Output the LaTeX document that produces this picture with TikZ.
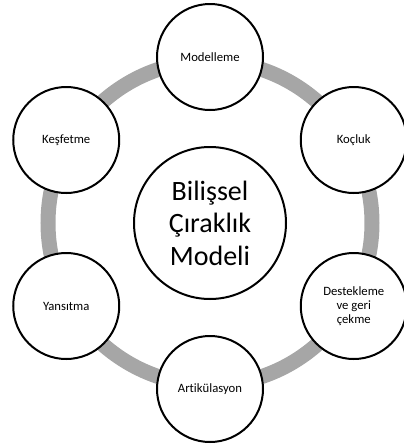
\documentclass[tikz,border=0pt]{standalone}
\usepackage{fontspec}
\setmainfont[Ligatures=NoCommon]{Carlito}
\usetikzlibrary{calc}
\definecolor{ringgray}{HTML}{A6A6A6}
\tikzset{
  stage/.style={circle, draw=black, line width=2pt, fill=white, minimum size=106pt, inner sep=0pt,
    align=center, font=\fontsize{12.7pt}{14pt}\selectfont},
  hub/.style={circle, draw=black, line width=2pt, fill=white, minimum size=152pt, inner sep=0pt,
    align=center, font=\fontsize{28pt}{32.5pt}\selectfont},
  ring/.style={draw=ringgray, line width=15pt}
}
\begin{document}
\begin{tikzpicture}[x=1pt, y=-1pt]
\useasboundingbox (0,0) rectangle (404,448);
\coordinate (c) at (210,223);
\draw[ring] (c) circle[radius=162pt];
\node[hub] (hub) at (c) {Bilişsel\\Çıraklık\\Modeli};
\node[stage] (mod) at ($(c)+(90:166pt)$) {Modelleme};
\node[stage] (koc) at ($(c)+(30:166pt)$) {Koçluk};
\node[stage] (des) at ($(c)+(-30:166pt)$) {Destekleme\\ve geri\\çekme};
\node[stage] (art) at ($(c)+(-90:166pt)$) {Artikülasyon};
\node[stage] (yan) at ($(c)+(-150:166pt)$) {Yansıtma};
\node[stage] (kes) at ($(c)+(150:166pt)$) {Keşfetme};
\end{tikzpicture}
\end{document}
